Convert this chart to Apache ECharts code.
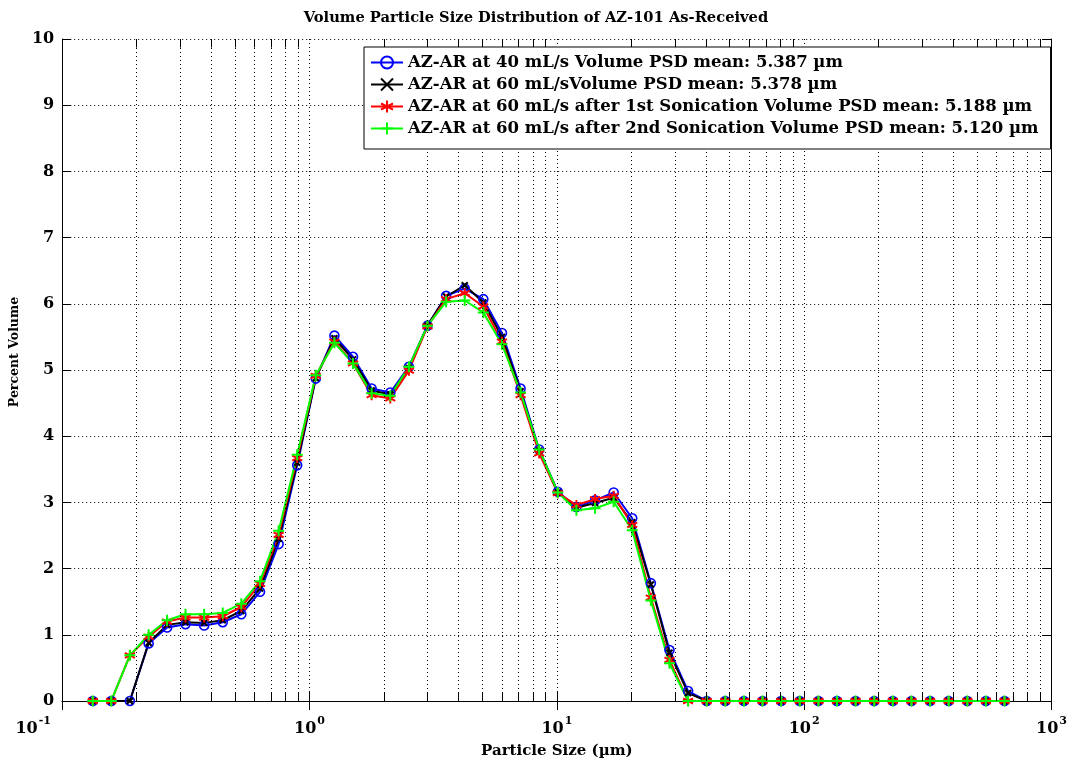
<!DOCTYPE html>
<html><head><meta charset="utf-8">
<script src="https://cdn.jsdelivr.net/npm/echarts@6/dist/echarts.min.js"></script>
<style>html,body{margin:0;padding:0;background:#fff}#c{width:1070px;height:764px}</style>
</head><body><div id="c"></div><script>
// Particle sizes (µm), channel geometric midpoints
const sizes = [0.1330,0.1579,0.1878,0.2237,0.2656,0.3153,0.3751,0.4458,0.5300,0.6306,
  0.7502,0.8917,1.060,1.261,1.499,1.783,2.121,2.522,2.999,3.567,
  4.242,5.044,5.998,7.133,8.483,10.09,11.995,14.27,16.97,20.17,
  23.99,28.53,33.93,40.35,47.98,57.07,67.86,80.70,95.99,114.2,
  135.7,161.4,191.9,228.2,271.4,322.8,383.9,456.5,542.9,645.6];
const az40 = [0,0,0,0.87,1.11,1.16,1.14,1.19,1.31,1.65,
  2.37,3.56,4.87,5.52,5.20,4.72,4.66,5.05,5.67,6.12,
  6.23,6.07,5.56,4.72,3.80,3.16,2.93,3.03,3.15,2.76,
  1.78,0.77,0.15,0,0,0,0,0,0,0,0,0,0,0,0,0,0,0,0,0];
const az60 = [0,0,0,0.88,1.15,1.19,1.18,1.22,1.36,1.70,
  2.45,3.60,4.88,5.48,5.16,4.69,4.63,5.03,5.67,6.11,
  6.28,6.02,5.50,4.68,3.78,3.15,2.92,2.99,3.07,2.70,
  1.76,0.73,0.12,0,0,0,0,0,0,0,0,0,0,0,0,0,0,0,0,0];
const az60s1 = [0,0,0.69,0.97,1.20,1.26,1.26,1.28,1.42,1.77,
  2.51,3.67,4.91,5.43,5.10,4.62,4.57,4.99,5.66,6.07,
  6.16,5.96,5.43,4.62,3.74,3.14,2.96,3.05,3.10,2.66,
  1.56,0.62,0,0,0,0,0,0,0,0,0,0,0,0,0,0,0,0,0,0];
const az60s2 = [0,0,0.69,1.00,1.22,1.31,1.31,1.33,1.47,1.81,
  2.57,3.72,4.92,5.41,5.10,4.65,4.61,5.05,5.67,6.03,
  6.05,5.87,5.39,4.66,3.80,3.15,2.88,2.91,3.01,2.58,
  1.52,0.57,0,0,0,0,0,0,0,0,0,0,0,0,0,0,0,0,0,0];
const seriesNames = [
  'AZ-AR at 40 mL/s Volume PSD mean: 5.387 µm',
  'AZ-AR at 60 mL/sVolume PSD mean: 5.378 µm',
  'AZ-AR at 60 mL/s after 1st Sonication Volume PSD mean: 5.188 µm',
  'AZ-AR at 60 mL/s after 2nd Sonication Volume PSD mean: 5.120 µm'
];
const xExponents = {'0.1':'-1','1':'0','10':'1','100':'2','1000':'3'};
const minorTickValues = [0.2,0.3,0.4,0.5,0.6,0.7,0.8,0.9,
  2,3,4,5,6,7,8,9, 20,30,40,50,60,70,80,90, 200,300,400,500,600,700,800,900];
const titleText = 'Volume Particle Size Distribution of AZ-101 As-Received';
const xName = 'Particle Size (µm)';
const yName = 'Percent Volume';

const FONT = 'DejaVu Serif';
const dotted = {type:[1,3], color:'#000', width:1};
const pair = arr => sizes.map((s,i)=>[s, arr[i]]);

const symPlus = 'path://M0,-1L0,1M-1,0L1,0';
const symStar = 'path://M0,-1L0,1M-0.87,-0.5L0.87,0.5M-0.87,0.5L0.87,-0.5';
const symX = 'path://M-1,-1L1,1M-1,1L1,-1';

function mkSeries(name, arr, color, symbol, size, fill, bw){
  return {
    name, type:'line', data: pair(arr), symbol, symbolSize:size,
    showAllSymbol:true, animation:false, z:3,
    lineStyle:{color, width:2},
    itemStyle:{color: fill, borderColor:color, borderWidth:bw},
    emphasis:{disabled:true}
  };
}

const baseX = {
  type:'log', logBase:10, min:0.1, max:1000,
  axisLine:{show:true, lineStyle:{color:'#000', width:1}},
  axisTick:{show:true, inside:true, length:9, lineStyle:{color:'#000'}},
  minorTick:{show:false},
};
const baseY = {
  type:'value', min:0, max:10, interval:1,
  axisLine:{show:true, lineStyle:{color:'#000', width:1}},
  axisTick:{show:true, inside:true, length:9, lineStyle:{color:'#000'}},
};

// minor grid lines and minor ticks drawn through the axis scale via markLine
const minorGrid = minorTickValues.map(v => ({xAxis:v}));
const minorTicksBottom = minorTickValues.map(v => [{coord:[v,0]},{coord:[v,0.13]}]);
const minorTicksTop = minorTickValues.map(v => [{coord:[v,10]},{coord:[v,9.87]}]);

const chart = echarts.init(document.getElementById('c'), null, {renderer:'canvas'});
chart.setOption({
  animation:false,
  backgroundColor:'#fff',
  title:{text:titleText, left:531, textAlign:'center', top:6,
    textStyle:{fontFamily:FONT, fontWeight:'bold', fontSize:14.7, color:'#000'}},
  grid:{left:61, top:39, right:12, bottom:63, containLabel:false},
  legend:{
    orient:'vertical', left:364, top:47, padding:[7,12,12,6], itemGap:5,
    itemWidth:32, itemHeight:15,
    backgroundColor:'#fff', borderColor:'#000', borderWidth:1, z:10,
    textStyle:{fontFamily:FONT, fontWeight:'bold', fontSize:16.5, color:'#000'},
    data: seriesNames
  },
  xAxis:[
    Object.assign({}, baseX, {
      position:'bottom',
      splitLine:{show:true, lineStyle:dotted},
      name:xName, nameLocation:'middle', nameGap:43,
      nameTextStyle:{fontFamily:FONT, fontWeight:'bold', fontSize:15, color:'#000'},
      axisLabel:{show:true, margin:15, color:'#000',
        formatter: v => {
          const key = String(+(+v).toPrecision(3));
          const e = xExponents[key];
          return key === '0.1' ? '{b|10}{sl|' + e + '}' : '{b|10}{s|' + e + '}';
        },
        rich:{
          b:{fontFamily:FONT, fontWeight:'bold', fontSize:16, color:'#000', verticalAlign:'bottom'},
          s:{fontFamily:FONT, fontWeight:'bold', fontSize:11, color:'#000', verticalAlign:'top', padding:[0,0,10,1]},
          sl:{fontFamily:FONT, fontWeight:'bold', fontSize:11, color:'#000', verticalAlign:'top', padding:[0,58,10,1]}
        }
      }
    }),
    Object.assign({}, baseX, {
      position:'top', axisLabel:{show:false}, splitLine:{show:false}
    })
  ],
  yAxis:[
    Object.assign({}, baseY, {
      position:'left',
      splitLine:{show:true, lineStyle:dotted},
      name:yName, nameLocation:'middle', nameGap:26,
      nameTextStyle:{fontFamily:FONT, fontWeight:'bold', fontSize:12.5, color:'#000', padding:[0,0,0,36]},
      axisLabel:{show:true, margin:8, fontFamily:FONT, fontWeight:'bold', fontSize:16, color:'#000'}
    }),
    Object.assign({}, baseY, {
      position:'right', axisLabel:{show:false}, splitLine:{show:false}
    })
  ],
  series:[
    {
      type:'line', data:[], silent:true, z:1, xAxisIndex:0, yAxisIndex:0,
      markLine:{silent:true, symbol:'none', animation:false, label:{show:false},
        lineStyle:dotted, emphasis:{disabled:true},
        data: minorGrid}
    },
    {
      type:'line', data:[], silent:true, z:4, xAxisIndex:0, yAxisIndex:0,
      markLine:{silent:true, symbol:'none', animation:false, label:{show:false},
        lineStyle:{type:'solid', color:'#000', width:1}, emphasis:{disabled:true},
        data: minorTicksBottom.concat(minorTicksTop)}
    },
    mkSeries(seriesNames[0], az40, '#0000ff', 'circle', 9, 'rgba(0,0,0,0)', 1.6),
    mkSeries(seriesNames[1], az60, '#000000', symX, 6, '#000', 2),
    mkSeries(seriesNames[2], az60s1, '#ff0000', symStar, 10, '#ff0000', 2),
    mkSeries(seriesNames[3], az60s2, '#00ff00', symPlus, 11, '#00ff00', 2)
  ]
});
</script></body></html>
